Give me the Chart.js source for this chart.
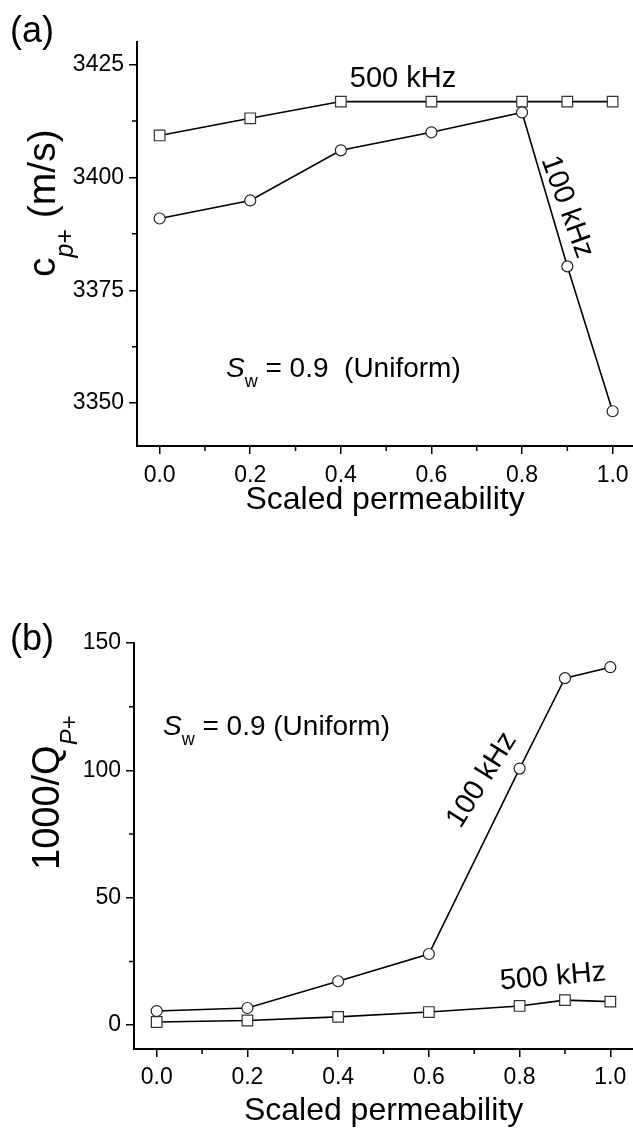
<!DOCTYPE html>
<html>
<head>
<meta charset="utf-8">
<script src="https://cdn.jsdelivr.net/npm/chart.js@4.4.0/dist/chart.umd.min.js"></script>
<style>
body { margin: 0; background: #fff; }
#wrap { position: relative; width: 633px; height: 1130px; }
canvas { position: absolute; left: 0; }
#chartA { top: 0; }
#chartB { top: 560px; }
</style>
</head>
<body>
<div id="wrap">
  <canvas id="chartA" width="633" height="540"></canvas>
  <canvas id="chartB" width="633" height="570"></canvas>
</div>
<script>
// values
var permeability = [0, 0.2, 0.4, 0.6, 0.8, 0.9, 1.0];
var speed100 = [3390.9, 3394.9, 3406.0, 3410.0, 3414.4, 3380.3, 3348.2];
var speed500 = [3409.3, 3413.1, 3416.8, 3416.8, 3416.8, 3416.8, 3416.8];
var atten100 = [5.5, 6.7, 17.2, 27.9, 100.7, 136.2, 140.5];
var atten500 = [1.2, 1.8, 3.2, 5.1, 7.5, 9.8, 9.2];

var xTicks = [0, 0.2, 0.4, 0.6, 0.8, 1.0];
var xMinor = [0.1, 0.3, 0.5, 0.7, 0.9];
var speedTicks = [3350, 3375, 3400, 3425];
var speedMinor = [3362.5, 3387.5, 3412.5];
var attenTicks = [0, 50, 100, 150];
var attenMinor = [25, 75, 125];

var FONT = 'Liberation Sans, Arial, Helvetica, sans-serif';
Chart.defaults.font.family = FONT;
Chart.defaults.color = '#000';

function pts(ys) {
  return permeability.map(function (x, i) { return { x: x, y: ys[i] }; });
}

function fnt(size, italic) {
  return (italic ? 'italic ' : '') + size + 'px ' + FONT;
}

// short minor ticks, placed through the chart scales
var minorTicks = {
  id: 'minorTicks',
  afterDraw: function (chart, args, opts) {
    var ctx = chart.ctx, a = chart.chartArea;
    var xs = chart.scales.x, ys = chart.scales.y;
    ctx.save();
    ctx.strokeStyle = '#000';
    ctx.lineWidth = 1.5;
    ctx.beginPath();
    opts.x.forEach(function (v) {
      var px = xs.getPixelForValue(v);
      ctx.moveTo(px, a.bottom); ctx.lineTo(px, a.bottom + 5);
    });
    opts.y.forEach(function (v) {
      var py = ys.getPixelForValue(v);
      ctx.moveTo(a.left, py); ctx.lineTo(a.left - 5, py);
    });
    ctx.stroke();
    ctx.restore();
  }
};

// text labels with italics / subscripts
var notes = {
  id: 'notes',
  afterDraw: function (chart, args, opts) {
    var ctx = chart.ctx;
    opts.items.forEach(function (n) {
      ctx.save();
      ctx.fillStyle = '#000';
      ctx.translate(n.x, n.y);
      ctx.rotate((n.angle || 0) * Math.PI / 180);
      ctx.textBaseline = n.baseline || 'alphabetic';
      ctx.textAlign = 'left';
      var w = 0;
      n.parts.forEach(function (p) { ctx.font = p.font; p.w = ctx.measureText(p.t).width; w += p.w; });
      var cx = n.center ? -w / 2 : 0;
      n.parts.forEach(function (p) {
        ctx.font = p.font;
        ctx.fillText(p.t, cx, p.dy || 0);
        cx += p.w;
      });
      ctx.restore();
    });
  }
};

function makePanel(id, o) {
  return new Chart(document.getElementById(id), {
    type: 'line',
    data: {
      datasets: [{
        label: '100 kHz',
        data: pts(o.y100),
        borderColor: '#000',
        borderWidth: 1.6,
        pointStyle: 'circle',
        pointRadius: 5.5,
        pointBorderWidth: 1.2,
        pointBorderColor: '#222',
        pointBackgroundColor: '#fff',
        clip: false
      }, {
        label: '500 kHz',
        data: pts(o.y500),
        borderColor: '#000',
        borderWidth: 1.6,
        pointStyle: 'rect',
        pointRadius: 7.5,
        pointBorderWidth: 1.2,
        pointBorderColor: '#333',
        pointBackgroundColor: '#fff',
        clip: false
      }]
    },
    options: {
      responsive: false,
      animation: false,
      devicePixelRatio: 1,
      layout: { autoPadding: false, padding: { top: o.top, left: 0, right: 0, bottom: 0 } },
      plugins: {
        legend: { display: false },
        tooltip: { enabled: false },
        minorTicks: { x: xMinor, y: o.yMinor },
        notes: { items: o.notes }
      },
      scales: {
        x: {
          type: 'linear',
          min: -0.05,
          max: o.xMax,
          afterBuildTicks: function (s) { s.ticks = xTicks.map(function (v) { return { value: v }; }); },
          afterFit: function (s) { s.height = o.xHeight; s.paddingLeft = 0; s.paddingRight = 0; },
          ticks: {
            font: { size: 23 },
            padding: o.xPad,
            maxRotation: 0,
            autoSkip: false,
            callback: function (v) { return Number(v).toFixed(1); }
          },
          grid: { drawOnChartArea: false, drawTicks: true, tickLength: 8, color: '#000', lineWidth: 1.5 },
          border: { display: true, color: '#000', width: 2 },
          title: {
            display: true,
            text: 'Scaled permeability',
            font: { size: 32 },
            padding: { top: 0, bottom: o.titlePad }
          }
        },
        y: {
          min: o.yMin,
          max: o.yMax,
          afterBuildTicks: function (s) { s.ticks = o.yTicks.map(function (v) { return { value: v }; }); },
          afterFit: function (s) { s.width = o.left; s.paddingTop = 0; s.paddingBottom = 0; },
          ticks: {
            font: { size: 23 },
            padding: 5,
            autoSkip: false,
            callback: function (v) { return String(v); }
          },
          grid: { drawOnChartArea: false, drawTicks: true, tickLength: 8, color: '#000', lineWidth: 1.5 },
          border: { display: true, color: '#000', width: 2 }
        }
      }
    },
    plugins: [minorTicks, notes]
  });
}

makePanel('chartA', {
  y100: speed100, y500: speed500,
  yMin: 3340.5, yMax: 3430, yTicks: speedTicks, yMinor: speedMinor,
  top: 42, left: 137, xHeight: 94, xMax: 1.045, titlePad: 21, xPad: 8,
  notes: [
    { x: 10, y: 42, parts: [{ t: '(a)', font: fnt(36) }] },
    { x: 403, y: 87, center: true, parts: [{ t: '500 kHz', font: fnt(29) }] },
    { x: 567, y: 207, angle: 70, center: true, baseline: 'middle', parts: [{ t: '100 kHz', font: fnt(29) }] },
    { x: 226, y: 377, parts: [
      { t: 'S', font: fnt(28, true) },
      { t: 'w', font: fnt(18), dy: 10 },
      { t: ' = 0.9  (Uniform)', font: fnt(28) }
    ] },
    { x: 55, y: 277, angle: -90, parts: [
      { t: 'c', font: fnt(39) },
      { t: 'p', font: fnt(25, true), dy: 18 },
      { t: '+', font: fnt(25), dy: 18 },
      { t: ' (m/s)', font: fnt(39) }
    ] }
  ]
});

makePanel('chartB', {
  y100: atten100, y500: atten500,
  yMin: -9.4, yMax: 150, yTicks: attenTicks, yMinor: attenMinor,
  top: 83, left: 134, xHeight: 81, xMax: 1.05, titlePad: 0, xPad: 7,
  notes: [
    { x: 10, y: 90, parts: [{ t: '(b)', font: fnt(36) }] },
    { x: 163, y: 175, parts: [
      { t: 'S', font: fnt(28, true) },
      { t: 'w', font: fnt(18), dy: 10 },
      { t: ' = 0.9 (Uniform)', font: fnt(28) }
    ] },
    { x: 482, y: 220, angle: -58, center: true, baseline: 'middle', parts: [{ t: '100 kHz', font: fnt(29) }] },
    { x: 553, y: 417, angle: -5, center: true, baseline: 'middle', parts: [{ t: '500 kHz', font: fnt(29) }] },
    { x: 59, y: 310, angle: -90, parts: [
      { t: '1000/Q', font: fnt(38) },
      { t: 'P', font: fnt(24, true), dy: 18 },
      { t: '+', font: fnt(24), dy: 18 }
    ] }
  ]
});
</script>
</body>
</html>
